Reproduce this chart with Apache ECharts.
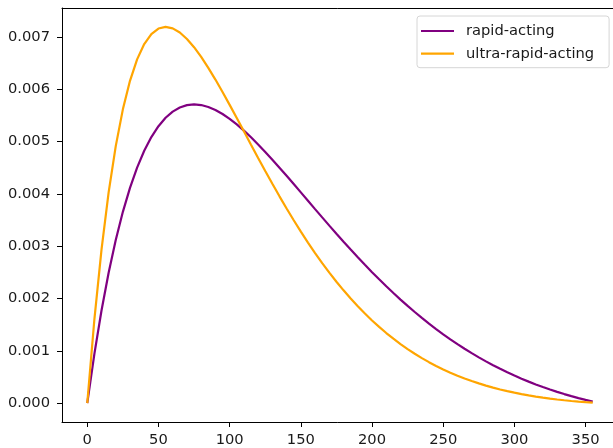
<!DOCTYPE html>
<html>
<head>
<meta charset="utf-8">
<script src="https://cdn.jsdelivr.net/npm/echarts@6/dist/echarts.min.js"></script>
<style>html,body{margin:0;padding:0;background:#fff}#c{width:613px;height:448px}</style>
</head>
<body>
<div id="c"></div>
<script>
const minutes = [0,5,10,15,20,25,30,35,40,45,50,55,60,65,70,75,80,85,90,95,100,105,110,115,120,125,130,135,140,145,150,155,160,165,170,175,180,185,190,195,200,205,210,215,220,225,230,235,240,245,250,255,260,265,270,275,280,285,290,295,300,305,310,315,320,325,330,335,340,345,350,355];
const rapidActing = [0,0.0009438,0.0017717,0.0024941,0.0031201,0.0036586,0.0041175,0.0045042,0.0048255,0.0050876,0.0052966,0.0054575,0.0055753,0.0056546,0.0056993,0.0057134,0.0057004,0.0056634,0.0056053,0.0055288,0.0054362,0.0053299,0.0052118,0.0050838,0.0049474,0.0048043,0.0046558,0.0045030,0.0043472,0.0041891,0.0040300,0.0038703,0.0037108,0.0035523,0.0033951,0.0032399,0.0030869,0.0029367,0.0027895,0.0026455,0.0025050,0.0023681,0.0022351,0.0021060,0.0019809,0.0018600,0.0017431,0.0016304,0.0015219,0.0014175,0.0013172,0.0012210,0.0011288,0.0010406,0.0009563,0.0008758,0.0007990,0.0007259,0.0006564,0.0005903,0.0005275,0.0004681,0.0004118,0.0003585,0.0003082,0.0002608,0.0002161,0.0001740,0.0001345,0.0000975,0.0000628,0.0000303];
const ultraRapidActing = [0,0.0016042,0.0029360,0.0040293,0.0049144,0.0056181,0.0061642,0.0065740,0.0068664,0.0070579,0.0071635,0.0071961,0.0071671,0.0070867,0.0069638,0.0068060,0.0066202,0.0064123,0.0061874,0.0059499,0.0057036,0.0054518,0.0051974,0.0049426,0.0046894,0.0044396,0.0041945,0.0039551,0.0037225,0.0034972,0.0032800,0.0030710,0.0028707,0.0026791,0.0024964,0.0023225,0.0021574,0.0020009,0.0018530,0.0017133,0.0015816,0.0014577,0.0013413,0.0012322,0.0011299,0.0010343,0.0009450,0.0008618,0.0007842,0.0007121,0.0006451,0.0005830,0.0005255,0.0004723,0.0004231,0.0003778,0.0003361,0.0002976,0.0002624,0.0002300,0.0002004,0.0001734,0.0001487,0.0001262,0.0001058,0.0000873,0.0000705,0.0000554,0.0000417,0.0000295,0.0000185,0.0000087];
const seriesNames = ['rapid-acting', 'ultra-rapid-acting'];
const xTicks = [0,50,100,150,200,250,300,350];
const yTicks = [0,0.001,0.002,0.003,0.004,0.005,0.006,0.007];

const FONT = 'DejaVu Sans';
const chart = echarts.init(document.getElementById('c'), null, {renderer: 'canvas'});
const pairs = ys => minutes.map((m, i) => [m, ys[i]]);
const spine = {show: true, onZero: false, lineStyle: {color: '#000', width: 1}};
const X_MIN = -17.75, X_MAX = 372.75;
chart.setOption({
  animation: false,
  backgroundColor: '#fff',
  grid: {left: 62, top: 8, width: 556, height: 414, outerBoundsMode: 'none', containLabel: false, show: false},
  xAxis: [{
    type: 'value', min: X_MIN, max: X_MAX, axisLine: spine, splitLine: {show: false},
    axisTick: {show: true, inside: false, length: 5, lineStyle: {color: '#000', width: 1}, customValues: xTicks},
    axisLabel: {customValues: xTicks, margin: 11, fontSize: 14.7, fontFamily: FONT, color: '#1a1a1a'}
  }, {
    type: 'value', position: 'top', min: X_MIN, max: X_MAX, axisLine: spine,
    splitLine: {show: false}, axisTick: {show: false}, axisLabel: {show: false}
  }],
  yAxis: {
    type: 'value', min: -0.00036, max: 0.007556, axisLine: spine, splitLine: {show: false},
    axisTick: {show: true, inside: false, length: 5, lineStyle: {color: '#000', width: 1}, customValues: yTicks},
    axisLabel: {customValues: yTicks, margin: 12, fontSize: 14.7, fontFamily: FONT, color: '#1a1a1a', formatter: v => v.toFixed(3)}
  },
  legend: {
    orient: 'vertical', left: 417, top: 16,
    padding: [7, 15, 6, 4], itemWidth: 33, itemHeight: 2.2, itemGap: 6.7,
    icon: 'rect',
    backgroundColor: '#fff', borderColor: '#d6d6d6', borderWidth: 1, borderRadius: 3,
    textStyle: {fontSize: 14.7, lineHeight: 16, fontFamily: FONT, color: '#1a1a1a', padding: [0, 0, 0, 7]},
    data: seriesNames
  },
  series: [
    {name: seriesNames[0], type: 'line', data: pairs(rapidActing), showSymbol: false, symbol: 'none',
     lineStyle: {color: '#800080', width: 2.2}, itemStyle: {color: '#800080'}},
    {name: seriesNames[1], type: 'line', data: pairs(ultraRapidActing), showSymbol: false, symbol: 'none',
     lineStyle: {color: '#FFA500', width: 2.2}, itemStyle: {color: '#FFA500'}}
  ]
});
</script>
</body>
</html>
